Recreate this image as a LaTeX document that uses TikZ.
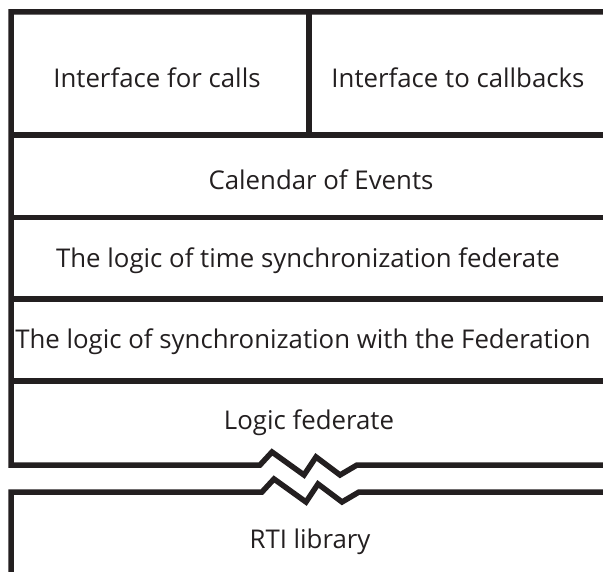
\documentclass[tikz,border=0pt]{standalone}
\usepackage{fontspec}
\setmainfont{Open Sans}
\usepackage{xcolor}
\usetikzlibrary{positioning}

\definecolor{ink}{HTML}{231F20}

\begin{document}
\begin{tikzpicture}[x=1pt, y=-1pt,
    wall/.style={line width=5.5pt, color=ink},
    layer/.style={font=\fontsize{25.8}{30}\selectfont, text=ink, inner sep=0pt}]
    \useasboundingbox (0,0) rectangle (603,572);

    % Frame of the federate with the broken bottom edge
    \draw[wall] (610,12) -- (11,12) -- (11,465) -- (260,465) -- (272,452) -- (304,475)
        -- (316,457) -- (340,475) -- (357,465) -- (610,465);
    % Top edge of the RTI library, broken the same way
    \draw[wall] (11,580) -- (11,492) -- (262,492) -- (274,479) -- (306,502)
        -- (318,484) -- (342,502) -- (359,492) -- (610,492);

    % Borders between the layers
    \draw[wall] (309,12) -- (309,135);
    \draw[wall] (11,135) -- (610,135);
    \draw[wall] (11,217.5) -- (610,217.5);
    \draw[wall] (11,299) -- (610,299);
    \draw[wall] (11,381) -- (610,381);

    % Layer names
    \node[layer] (calls) at (157,78) {Interface for calls};
    \node[layer] (callbacks) at (458,78) {Interface to callbacks};
    \node[layer] (calendar) at (321,180) {Calendar of Events};
    \node[layer] (timesync) at (308,261) {The logic of time synchronization federate};
    \node[layer] (fedsync) at (303,342) {The logic of synchronization with the Federation};
    \node[layer] (logic) at (309,423) {Logic federate};
    \node[layer] (rti) at (310,542) {RTI library};
\end{tikzpicture}
\end{document}
